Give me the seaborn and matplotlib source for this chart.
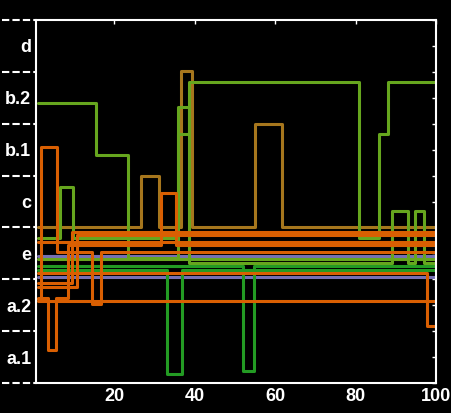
import pandas as pd
import numpy as np
import matplotlib
matplotlib.use('Agg')
import matplotlib.pyplot as plt
import matplotlib.transforms as mtransforms
import seaborn as sns

sns.set_style('dark')
plt.rcParams['font.family'] = ['Liberation Sans', 'DejaVu Sans']

# category axis (bands 0..7, label at band centre)
y_labels = ['a.1', 'a.2', 'e', 'c', 'b.1', 'b.2', 'd']
x_ticks = [20, 40, 60, 80, 100]

# step series: change points (x) and levels (y)
brown_x = [1, 26.5, 31, 36.5, 39.25, 55, 61.75, 100]
brown_y = [3.0, 4.0, 3.0, 6.02, 3.0, 5.0, 3.0, 3.0]

g1_x = [1, 15.5, 23.5, 35.75, 38.5, 80.75, 85.75, 88, 100]
g1_y = [5.4, 4.4, 2.41, 4.8, 5.8, 2.8, 4.8, 5.8, 5.8]

g2_x = [1, 6.5, 9.75, 35.75, 38.5, 89, 93, 94.75, 97, 100]
g2_y = [2.8, 3.78, 2.8, 5.32, 2.31, 3.32, 2.31, 3.32, 2.31, 2.31]

g3_x = [1, 100]
g3_y = [2.39, 2.39]

dg1_x = [1, 33, 36.75, 100]
dg1_y = [2.18, 0.17, 2.18, 2.18]

dg2_x = [1, 52, 54.75, 100]
dg2_y = [2.26, 0.23, 2.26, 2.26]

p1_x = [1, 100]
p1_y = [2.45, 2.45]
p2_x = [1, 100]
p2_y = [2.04, 2.04]

oa_x = [1, 1.75, 5.75, 14.5, 16.75, 100]
oa_y = [1.62, 4.55, 2.53, 1.52, 2.53, 2.53]

ob_x = [1, 3.5, 5.5, 8.5, 31.5, 35.25, 100]
ob_y = [1.64, 0.64, 1.64, 2.66, 3.66, 2.66, 2.66]

oc_x = [1, 100]
oc_y = [1.58, 1.58]

od_x = [1, 9.5, 100]
od_y = [1.93, 2.92, 2.92]

oe_x = [1, 10.75, 100]
oe_y = [1.85, 2.86, 2.86]

of_x = [1, 100]
of_y = [2.72, 2.72]

og_x = [1, 97.75, 100]
og_y = [2.12, 1.10, 1.10]

series = {
    'p1': (p1_x, p1_y), 'p2': (p2_x, p2_y),
    'g3': (g3_x, g3_y), 'dg1': (dg1_x, dg1_y), 'dg2': (dg2_x, dg2_y),
    'brown': (brown_x, brown_y),
    'g1': (g1_x, g1_y), 'g2': (g2_x, g2_y),
    'oa': (oa_x, oa_y), 'ob': (ob_x, ob_y), 'oc': (oc_x, oc_y),
    'od': (od_x, od_y), 'oe': (oe_x, oe_y), 'of': (of_x, of_y),
    'og': (og_x, og_y),
}

ORANGE = '#d95f02'
LGREEN = '#66a61e'
DGREEN = '#239b23'
BROWN = '#a6761d'
PURPLE = '#7570b3'
palette = {
    'p1': PURPLE, 'p2': PURPLE, 'g3': LGREEN, 'dg1': DGREEN, 'dg2': DGREEN,
    'brown': BROWN, 'g1': LGREEN, 'g2': LGREEN,
    'oa': ORANGE, 'ob': ORANGE, 'oc': ORANGE, 'od': ORANGE, 'oe': ORANGE,
    'of': ORANGE, 'og': ORANGE,
}

rows = []
for name, (xs, ys) in series.items():
    for x, y in zip(xs, ys):
        rows.append({'x': x, 'y': y, 'series': name})
df = pd.DataFrame(rows)

fig = plt.figure(figsize=(4.52, 4.13), dpi=100, facecolor='black')
ax = fig.add_axes([36 / 452, 30 / 413, 400 / 452, 363 / 413])
ax.set_facecolor('black')

sns.lineplot(data=df, x='x', y='y', hue='series', palette=palette,
             hue_order=list(series.keys()), estimator=None, sort=False,
             drawstyle='steps-post', linewidth=2.2, legend=False, ax=ax)

ax.set_xlim(0.5, 100)
ax.set_ylim(0, 7)
ax.set_xlabel('')
ax.set_ylabel('')
ax.grid(False)

ax.set_xticks(x_ticks)
ax.set_xticklabels([str(t) for t in x_ticks])
ax.set_yticks(np.arange(len(y_labels)) + 0.5)
ax.set_yticklabels(y_labels)
ax.set_yticks(np.arange(len(y_labels) + 1), minor=True)

for spine in ax.spines.values():
    spine.set_visible(True)
    spine.set_color('white')
    spine.set_linewidth(1.5)

ax.tick_params(which='both', direction='in', colors='white', length=3,
               width=1, top=True, right=True, labelsize=13)
for lab in ax.get_xticklabels() + ax.get_yticklabels():
    lab.set_fontweight('bold')
    lab.set_color('white')

# dashed band separators outside the left axis
trans = mtransforms.blended_transform_factory(ax.transAxes, ax.transData)
for yb in range(len(y_labels) + 1):
    ax.plot([-0.085, -0.003], [yb, yb], transform=trans, color='white',
            lw=1.5, linestyle=(0, (3.5, 1.5)), clip_on=False)

fig.savefig('out.png', dpi=100, facecolor='black')
